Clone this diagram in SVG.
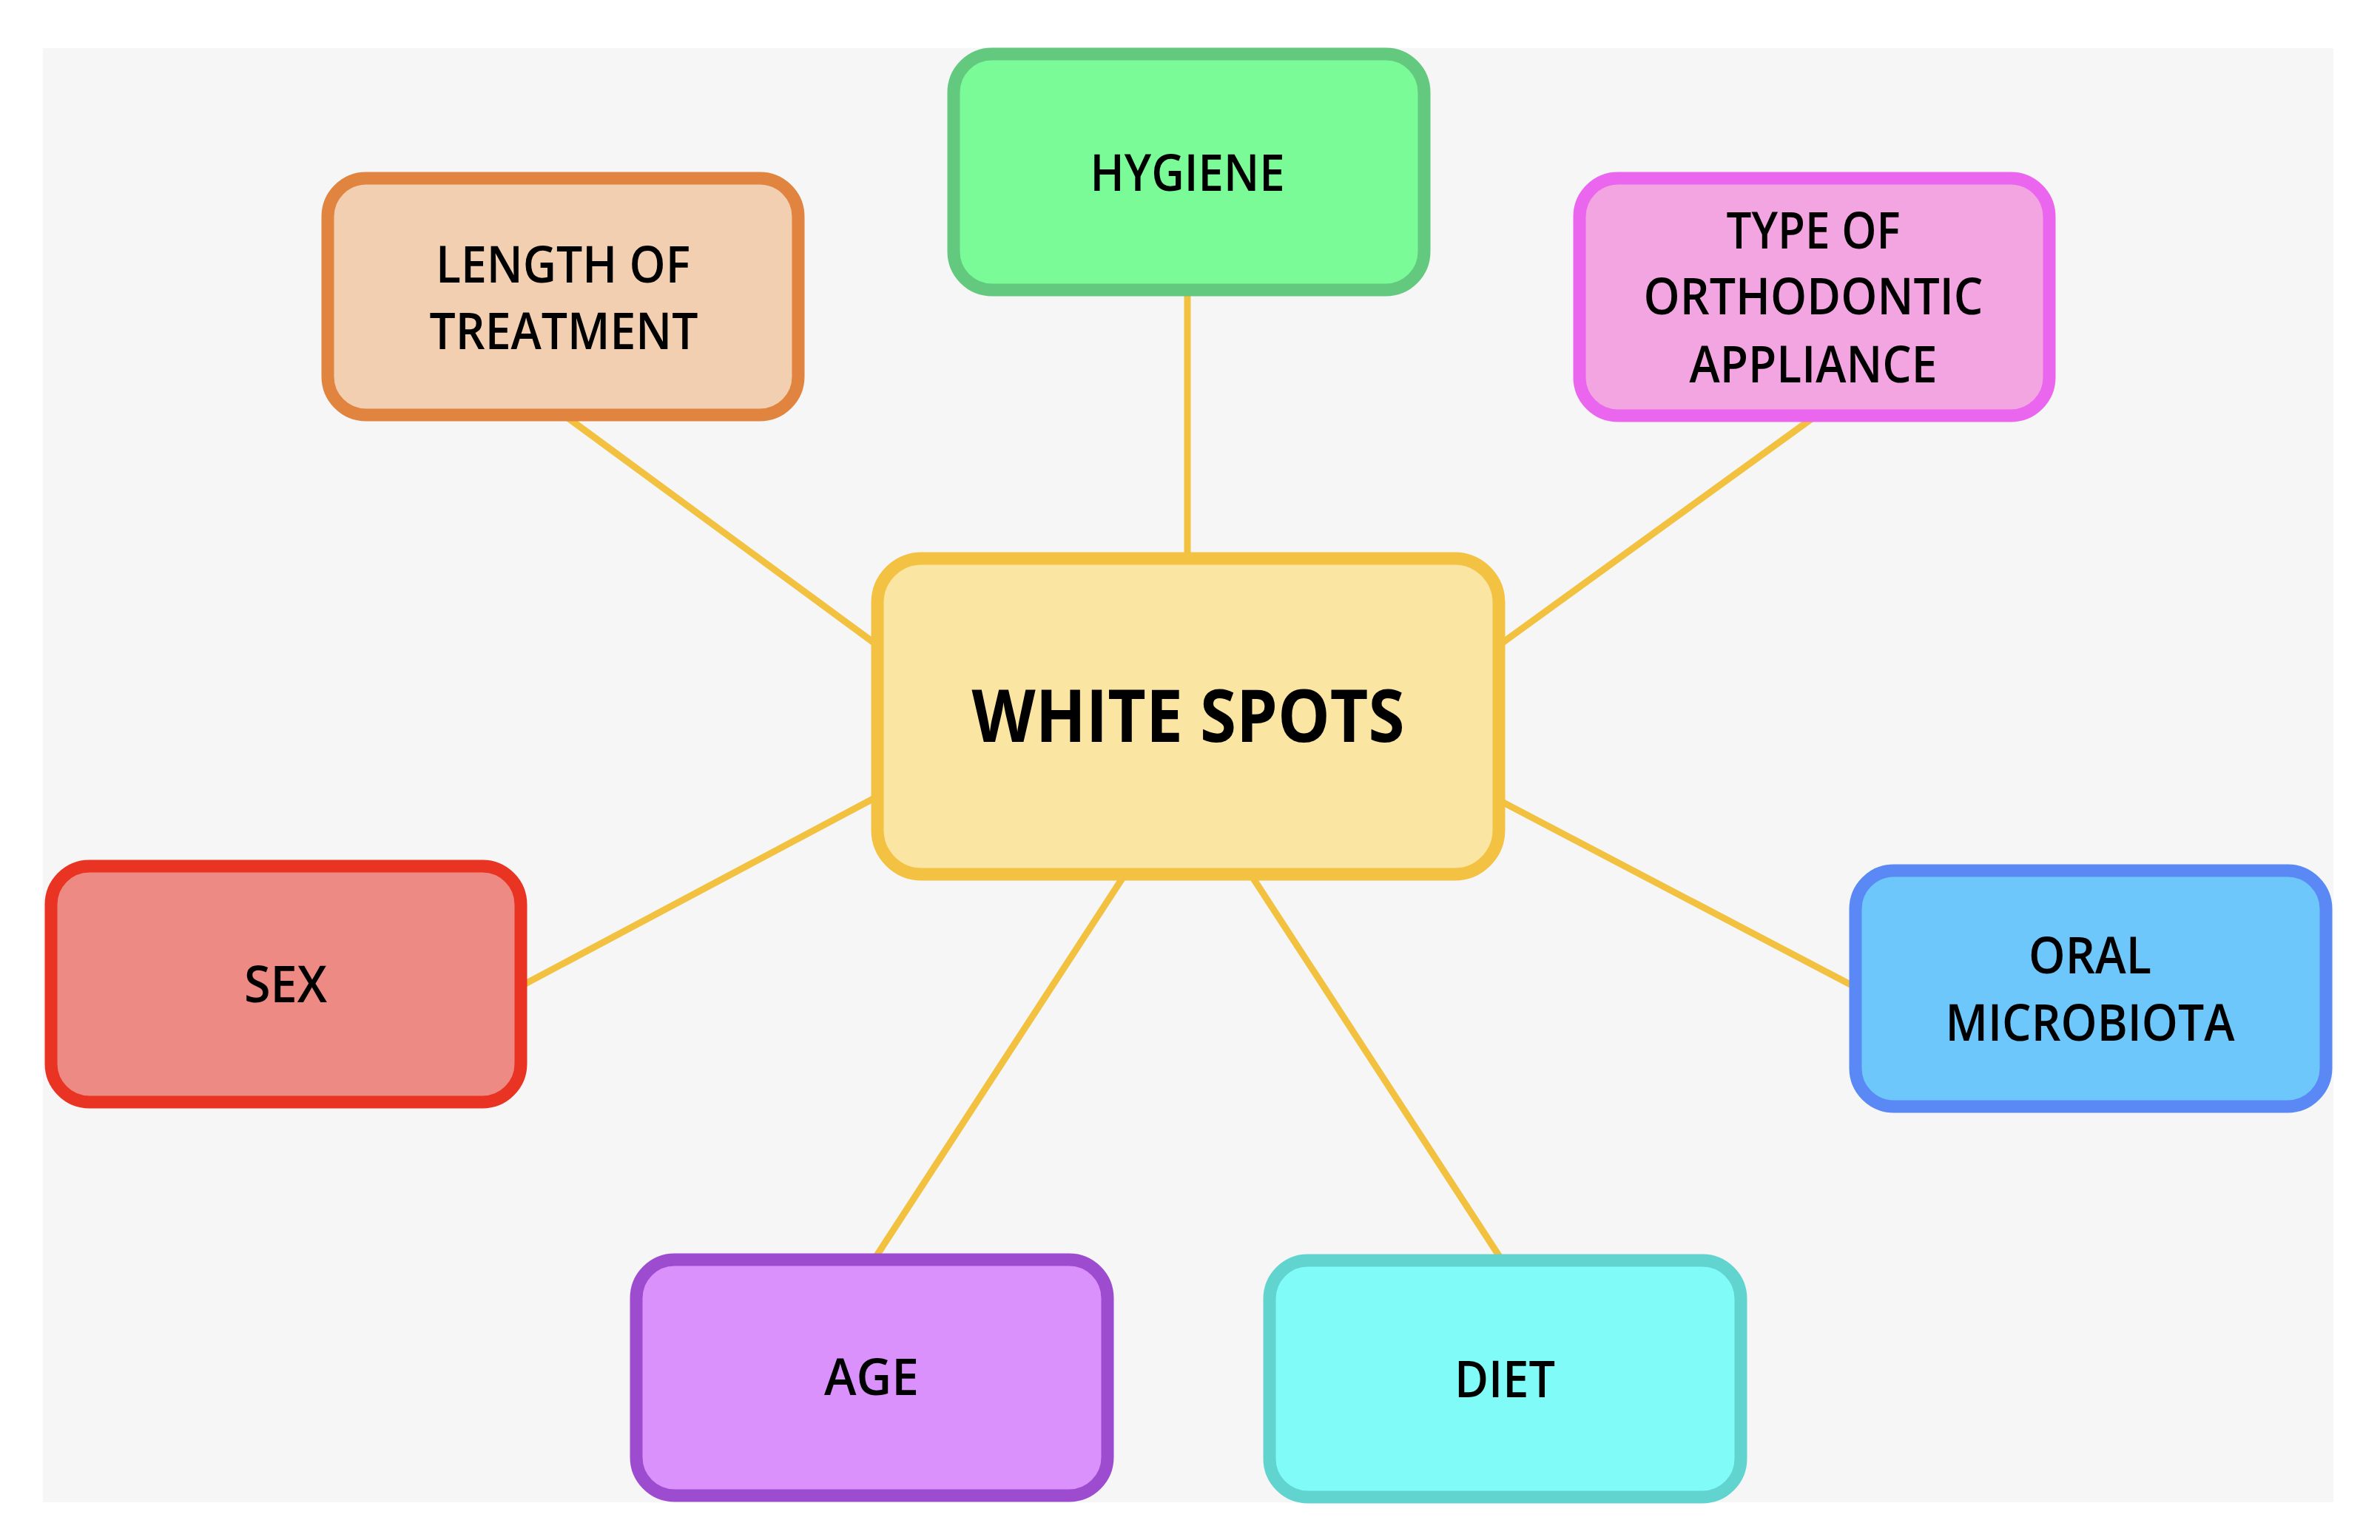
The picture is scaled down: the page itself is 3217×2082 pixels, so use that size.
<svg xmlns="http://www.w3.org/2000/svg" width="3217" height="2082" viewBox="0 0 3217 2082">
<style>
.node rect{stroke-width:17}
.lbl{font-family:"Open Sans","Liberation Sans",sans-serif;font-size:68px;font-weight:600;fill:#000;text-anchor:middle}
.big{font-family:"Open Sans","Liberation Sans",sans-serif;font-size:98px;font-weight:bold;fill:#000;text-anchor:middle}
.conn line{stroke:#f2c13f;stroke-width:9;stroke-linecap:round}
</style>
<rect x="0" y="0" width="3217" height="2082" fill="#ffffff"/>
<rect x="58" y="65" width="3096" height="1966" fill="#f6f6f6"/>
<g id="connectors" class="conn">
<line x1="1605" y1="398" x2="1605" y2="752"/>
<line x1="769" y1="566" x2="1180" y2="868"/>
<line x1="2449" y1="566" x2="2032" y2="868"/>
<line x1="710" y1="1330" x2="1180" y2="1080"/>
<line x1="2503" y1="1332" x2="2032" y2="1085"/>
<line x1="1184" y1="1699" x2="1518" y2="1186"/>
<line x1="2027" y1="1699" x2="1693" y2="1186"/>
</g>
<g id="node-hygiene" class="node">
<rect x="1289" y="73" width="636" height="319" rx="52" fill="#7afb98" stroke="#63c97e"/>
<text class="lbl" x="1605" y="258" textLength="263" lengthAdjust="spacingAndGlyphs">HYGIENE</text>
</g>
<g id="node-length" class="node">
<rect x="443" y="241" width="636" height="320" rx="52" fill="#f2cfb0" stroke="#e0843f"/>
<text class="lbl" x="761" y="382" textLength="344" lengthAdjust="spacingAndGlyphs">LENGTH OF</text>
<text class="lbl" x="762" y="472" textLength="363" lengthAdjust="spacingAndGlyphs">TREATMENT</text>
</g>
<g id="node-type" class="node">
<rect x="2135" y="241" width="635" height="321" rx="52" fill="#f2a5e0" stroke="#ea66ee"/>
<text class="lbl" x="2451" y="336" textLength="235" lengthAdjust="spacingAndGlyphs">TYPE OF</text>
<text class="lbl" x="2451" y="425" textLength="459" lengthAdjust="spacingAndGlyphs">ORTHODONTIC</text>
<text class="lbl" x="2451" y="517" textLength="335" lengthAdjust="spacingAndGlyphs">APPLIANCE</text>
</g>
<g id="node-white-spots" class="node">
<rect x="1186" y="755" width="840" height="427" rx="60" fill="#fae5a3" stroke="#f3c242"/>
<text class="big" x="1606" y="1003" textLength="585" lengthAdjust="spacingAndGlyphs">WHITE SPOTS</text>
</g>
<g id="node-sex" class="node">
<rect x="69" y="1171" width="635" height="319" rx="52" fill="#ed8a84" stroke="#e93323"/>
<text class="lbl" x="386" y="1355" textLength="112" lengthAdjust="spacingAndGlyphs">SEX</text>
</g>
<g id="node-oral" class="node">
<rect x="2508" y="1177" width="636" height="319" rx="52" fill="#6ec7fa" stroke="#5a89f5"/>
<text class="lbl" x="2825" y="1316" textLength="166" lengthAdjust="spacingAndGlyphs">ORAL</text>
<text class="lbl" x="2825" y="1407" textLength="391" lengthAdjust="spacingAndGlyphs">MICROBIOTA</text>
</g>
<g id="node-age" class="node">
<rect x="860" y="1703" width="637" height="319" rx="52" fill="#da91fb" stroke="#9d4ccf"/>
<text class="lbl" x="1178" y="1886" textLength="128" lengthAdjust="spacingAndGlyphs">AGE</text>
</g>
<g id="node-diet" class="node">
<rect x="1716" y="1704" width="637" height="320" rx="52" fill="#80fbf8" stroke="#62d4d0"/>
<text class="lbl" x="2034" y="1889" textLength="136" lengthAdjust="spacingAndGlyphs">DIET</text>
</g>
</svg>
